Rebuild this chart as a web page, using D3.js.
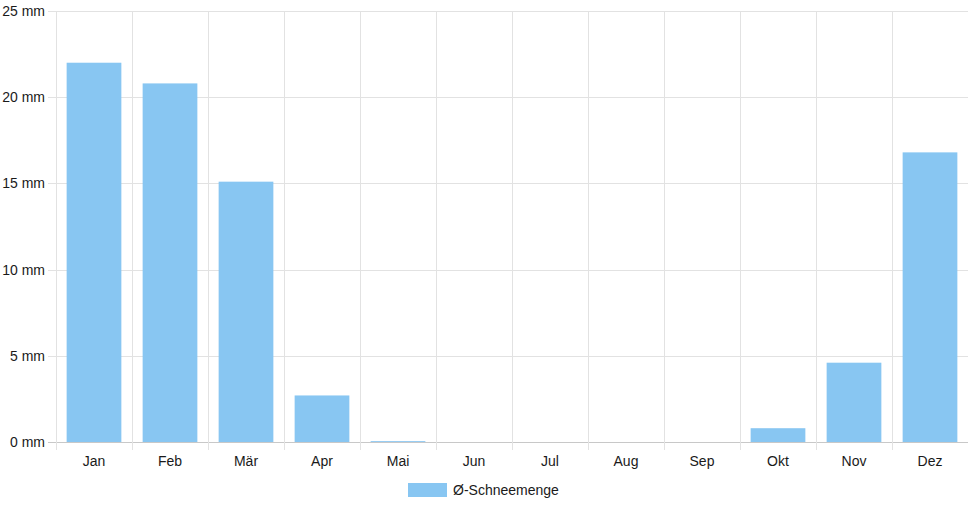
<!DOCTYPE html>
<html>
<head>
<meta charset="utf-8">
<script src="https://cdn.jsdelivr.net/npm/d3@7"></script>
<style>
  body { margin: 0; background: #fff; }
  text { font-family: "Liberation Sans", Arial, sans-serif; fill: #1a1a1a; }
</style>
</head>
<body>
<svg width="968" height="508"></svg>
<script>
// Monate und durchschnittliche Schneemenge (mm)
const months = ["Jan", "Feb", "Mär", "Apr", "Mai", "Jun", "Jul", "Aug", "Sep", "Okt", "Nov", "Dez"];
const snow = [22.0, 20.8, 15.1, 2.7, 0.05, 0, 0, 0, 0, 0.8, 4.6, 16.8];
const yTicks = [0, 5, 10, 15, 20, 25];
const seriesName = "Ø-Schneemenge";

const svg = d3.select("svg");
const margin = {left: 56, right: 0, top: 11, bottom: 66};
const width = +svg.attr("width");
const height = +svg.attr("height");
const plotH = height - margin.top - margin.bottom;

const x = d3.scaleBand()
    .domain(months)
    .range([margin.left, width - margin.right]);

const y = d3.scaleLinear()
    .domain([0, 25])
    .range([margin.top + plotH, margin.top]);

const grid = "#e2e2e2";
const fontSize = 14;

// horizontale Gitterlinien + Ticks links
const yAxis = svg.append("g");
yAxis.selectAll("line")
    .data(yTicks)
    .join("line")
    .attr("x1", margin.left - 8)
    .attr("x2", width)
    .attr("y1", d => Math.round(y(d)) + 0.5)
    .attr("y2", d => Math.round(y(d)) + 0.5)
    .attr("stroke", d => d === 0 ? "#c8c8c8" : grid);
yAxis.selectAll("text")
    .data(yTicks)
    .join("text")
    .attr("x", margin.left - 11)
    .attr("y", d => y(d))
    .attr("dy", "0.35em")
    .attr("text-anchor", "end")
    .attr("font-size", fontSize)
    .text(d => d + " mm");

// vertikale Gitterlinien (Kategoriegrenzen)
const bounds = months.map(m => x(m)).concat([width - margin.right]);
svg.append("g").selectAll("line")
    .data(bounds)
    .join("line")
    .attr("x1", d => Math.round(d) + 0.5)
    .attr("x2", d => Math.round(d) + 0.5)
    .attr("y1", margin.top)
    .attr("y2", y(0) + 8)
    .attr("stroke", grid);

// Balken
const barW = x.bandwidth() * 0.72;
svg.append("g").selectAll("rect")
    .data(snow)
    .join("rect")
    .attr("x", (d, i) => x(months[i]) + (x.bandwidth() - barW) / 2)
    .attr("y", d => y(d))
    .attr("width", barW)
    .attr("height", d => y(0) - y(d))
    .attr("fill", "#88c6f2");

// Monatsbeschriftung
svg.append("g").selectAll("text")
    .data(months)
    .join("text")
    .attr("x", d => x(d) + x.bandwidth() / 2)
    .attr("y", y(0) + 24)
    .attr("text-anchor", "middle")
    .attr("font-size", fontSize)
    .text(d => d);

// Legende
const legend = svg.append("g").attr("transform", "translate(408,483)");
legend.append("rect")
    .attr("width", 39)
    .attr("height", 14)
    .attr("fill", "#88c6f2");
legend.append("text")
    .attr("x", 45)
    .attr("y", 7)
    .attr("dy", "0.35em")
    .attr("font-size", fontSize)
    .text(seriesName);
</script>
</body>
</html>
